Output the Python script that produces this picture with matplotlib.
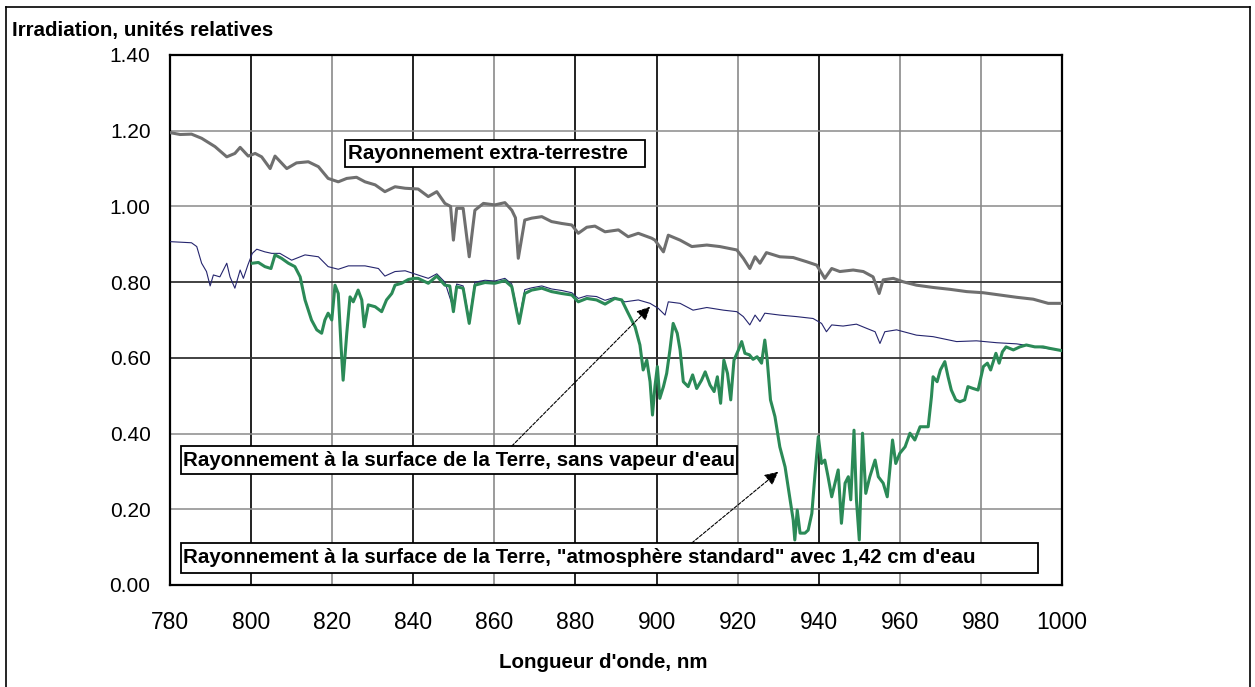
import matplotlib
matplotlib.use("Agg")
import matplotlib.pyplot as plt
from matplotlib.lines import Line2D
from matplotlib.patches import Rectangle

plt.rcParams['font.family'] = ['Liberation Sans', 'DejaVu Sans']

### Spectra (wavelength in nm, relative irradiance)
wl_extra = [780, 782.5, 785.3, 787.8, 791.1, 794, 796, 797.3, 799.3, 801,
            802.6, 804.7, 805.9, 808.8, 811.2, 814.1, 816.6, 819, 821.5, 823.6,
            826, 828.1, 830.6, 833, 835.5, 838, 841.2, 843.7, 845.8, 847.8,
            849.2, 849.9, 850.7, 852.3, 853.8, 855.2, 857.3, 860.1, 862.6, 864.3,
            865.2, 865.9, 867.5, 869.2, 871.7, 874.1, 876.6, 879.1, 880.7, 882.8,
            884.8, 887.3, 890.6, 893, 895.5, 898.8, 899.6, 901.7, 902.9, 905.8,
            908.7, 912.4, 915.6, 919.8, 921.4, 923, 924.3, 925.5, 927.1, 930.4,
            933.7, 937, 939.5, 941.5, 943.2, 945.2, 948.5, 951, 953.4, 954.9,
            955.9, 958.4, 960.8, 964.1, 968.2, 972.4, 976.5, 980.6, 984.7, 988.8,
            992.9, 996.6, 1000]
irr_extra = [1.195, 1.19, 1.191, 1.18, 1.158, 1.131, 1.140, 1.156, 1.133, 1.140,
             1.131, 1.10, 1.133, 1.10, 1.115, 1.118, 1.105, 1.074, 1.065, 1.074,
             1.077, 1.065, 1.057, 1.039, 1.052, 1.048, 1.046, 1.026, 1.039, 1.008,
             1.00, 0.911, 0.995, 0.995, 0.867, 0.990, 1.008, 1.004, 1.010, 0.990,
             0.97, 0.863, 0.964, 0.969, 0.973, 0.960, 0.955, 0.951, 0.929, 0.945,
             0.948, 0.933, 0.938, 0.920, 0.929, 0.916, 0.911, 0.880, 0.924, 0.911,
             0.894, 0.898, 0.894, 0.885, 0.863, 0.836, 0.867, 0.850, 0.878, 0.867,
             0.865, 0.854, 0.845, 0.810, 0.836, 0.828, 0.832, 0.828, 0.814, 0.770,
             0.806, 0.810, 0.801, 0.792, 0.786, 0.781, 0.775, 0.772, 0.766, 0.760,
             0.755, 0.744, 0.744]

wl_dry = [780, 785.3, 786.6, 787.8, 789, 789.9, 790.7, 792.3, 794, 794.8,
          796, 797.3, 798.1, 799.2, 800.3, 801.4, 803.4, 805.1, 807.1, 810,
          813.3, 816.6, 819, 821.5, 824, 828.1, 831.4, 833, 835.5, 838,
          840, 843.7, 845.8, 847.8, 849.9, 850.7, 852.3, 853.8, 855.2, 857.7,
          860.1, 862.6, 864.3, 866.1, 867.5, 869.2, 871.7, 874.1, 876.6, 879.1,
          880.7, 882.8, 885.2, 887.3, 889.7, 892.2, 895.5, 898.4, 900.4, 902.1,
          902.9, 905.8, 909, 912.4, 916.5, 919.8, 921.4, 923, 924.3, 925.5,
          926.7, 930.4, 934.5, 938.6, 940.7, 941.9, 943.2, 946, 949.3, 951.8,
          953.9, 955.1, 956.3, 959.2, 964.1, 968.2, 974, 978.9, 983.9, 988.8,
          993.7, 1000]
irr_dry = [0.907, 0.904, 0.894, 0.850, 0.828, 0.790, 0.819, 0.814, 0.850, 0.814,
           0.784, 0.832, 0.810, 0.845, 0.876, 0.887, 0.880, 0.876, 0.876, 0.858,
           0.872, 0.867, 0.841, 0.834, 0.843, 0.843, 0.836, 0.816, 0.828, 0.830,
           0.823, 0.810, 0.822, 0.800, 0.73, 0.795, 0.79, 0.70, 0.80, 0.805,
           0.803, 0.81, 0.795, 0.70, 0.78, 0.785, 0.79, 0.782, 0.778, 0.772,
           0.757, 0.764, 0.762, 0.752, 0.760, 0.748, 0.753, 0.744, 0.731, 0.713,
           0.748, 0.744, 0.726, 0.733, 0.726, 0.722, 0.709, 0.687, 0.713, 0.696,
           0.718, 0.713, 0.709, 0.704, 0.691, 0.669, 0.687, 0.684, 0.689, 0.678,
           0.669, 0.638, 0.669, 0.674, 0.660, 0.656, 0.643, 0.645, 0.640, 0.637,
           0.629, 0.619]

wl_std = [800.3, 801.8, 803.4, 804.9, 805.9, 807.5, 809.2, 810.8, 812.1, 813.3,
          814.9, 816.2, 817.4, 818.2, 819, 819.9, 820.7, 821.5, 822.2, 822.7,
          823.6, 824.4, 825.2, 826.4, 827.3, 827.9, 828.9, 830.6, 832.2, 833.4,
          834.7, 835.5, 837.1, 838.8, 840.2, 841.2, 843.7, 845.8, 847.8, 849,
          849.9, 850.7, 852.3, 853.8, 855.2, 857.7, 860.1, 862.6, 864.3, 866.1,
          867.5, 869.2, 871.7, 874.1, 876.6, 879.1, 880.7, 882.8, 885.2, 887.3,
          889.7, 891.4, 893, 894.7, 895.9, 896.7, 897.6, 898.4, 899, 899.6,
          900.2, 900.8, 901.7, 902.5, 903.3, 904.1, 905.1, 905.8, 906.6, 907.8,
          908.9, 909.9, 911.1, 912, 913.2, 914.2, 915, 915.8, 916.6, 917.5,
          918.3, 919.1, 920.2, 921, 921.8, 922.9, 923.8, 924.8, 925.9, 926.7,
          927.3, 928.1, 929.2, 930.4, 931.7, 932.7, 933.7, 934.1, 934.7, 935.4,
          936.6, 937.4, 938.3, 939.1, 939.9, 940.7, 941.5, 942.3, 943.2, 944,
          944.8, 945.6, 946.5, 947.3, 947.9, 948.7, 949.3, 950, 950.8, 951.6,
          952.6, 953.9, 954.7, 955.9, 956.9, 957.6, 958.2, 959, 960, 961.3,
          962.5, 963.7, 965, 967, 967.8, 968.2, 969.2, 970, 971.1, 971.9,
          972.7, 973.8, 974.8, 976, 976.8, 978.1, 979.3, 980.6, 981.6, 982.4,
          983.7, 984.5, 985.3, 986.2, 988, 989.6, 991.2, 993.3, 995.3, 997,
          1000]
irr_std = [0.850, 0.852, 0.841, 0.836, 0.872, 0.863, 0.850, 0.841, 0.814, 0.753,
           0.700, 0.674, 0.665, 0.700, 0.718, 0.700, 0.792, 0.770, 0.629, 0.541,
           0.665, 0.761, 0.748, 0.779, 0.753, 0.682, 0.740, 0.735, 0.722, 0.753,
           0.770, 0.792, 0.797, 0.807, 0.810, 0.810, 0.797, 0.816, 0.792, 0.790,
           0.722, 0.788, 0.784, 0.691, 0.792, 0.799, 0.797, 0.804, 0.788, 0.691,
           0.770, 0.779, 0.784, 0.775, 0.770, 0.766, 0.748, 0.757, 0.753, 0.742,
           0.757, 0.753, 0.718, 0.682, 0.634, 0.568, 0.594, 0.537, 0.449, 0.524,
           0.577, 0.493, 0.524, 0.559, 0.621, 0.691, 0.665, 0.621, 0.537, 0.524,
           0.555, 0.519, 0.541, 0.563, 0.528, 0.511, 0.550, 0.480, 0.594, 0.559,
           0.489, 0.594, 0.621, 0.643, 0.612, 0.608, 0.596, 0.603, 0.586, 0.647,
           0.594, 0.489, 0.445, 0.365, 0.312, 0.242, 0.172, 0.119, 0.198, 0.137,
           0.137, 0.145, 0.189, 0.295, 0.392, 0.321, 0.330, 0.286, 0.233, 0.269,
           0.304, 0.163, 0.269, 0.286, 0.225, 0.409, 0.225, 0.119, 0.401, 0.242,
           0.286, 0.330, 0.286, 0.269, 0.233, 0.312, 0.383, 0.321, 0.348, 0.365,
           0.401, 0.383, 0.418, 0.418, 0.497, 0.550, 0.537, 0.568, 0.590, 0.550,
           0.515, 0.489, 0.484, 0.489, 0.524, 0.519, 0.515, 0.577, 0.586, 0.568,
           0.612, 0.586, 0.616, 0.629, 0.621, 0.629, 0.634, 0.629, 0.629, 0.625,
           0.619]

x_ticks = list(range(780, 1001, 20))
y_ticks = [0.0, 0.2, 0.4, 0.6, 0.8, 1.0, 1.2, 1.4]
dark_x = [800, 840, 880, 900, 940]
dark_y = [0.6, 0.8]

label_extra = "Rayonnement extra-terrestre"
label_dry = "Rayonnement à la surface de la Terre, sans vapeur d'eau"
label_std = 'Rayonnement à la surface de la Terre, "atmosphère standard" avec 1,42 cm d\'eau'

W, H = 1255, 687
fig = plt.figure(figsize=(W / 100, H / 100), dpi=100)
ax = fig.add_axes([170 / W, 1 - 585 / H, 892 / W, 530 / H])

ax.set_xlim(780, 1000)
ax.set_ylim(0, 1.4)

### Grid, alternating heavy and light lines
for x in x_ticks[1:-1]:
    if x in dark_x:
        ax.axvline(x, color='#111111', lw=1.3, zorder=1)
    else:
        ax.axvline(x, color='#808080', lw=1.1, zorder=1)
for y in y_ticks[1:-1]:
    if y in dark_y:
        ax.axhline(y, color='#333333', lw=1.3, zorder=1)
    else:
        ax.axhline(y, color='#8a8a8a', lw=1.1, zorder=1)

### Curves
ax.plot(wl_extra, irr_extra, color='#6f6f6f', lw=2.2, zorder=3)
ax.plot(wl_dry, irr_dry, color='#25256e', lw=0.8, zorder=3)
ax.plot(wl_std, irr_std, color='#2b8a57', lw=2.2, zorder=4)

for s in ax.spines.values():
    s.set_linewidth(1.6)
    s.set_color('black')

ax.set_xticks(x_ticks)
ax.set_xticklabels([str(x) for x in x_ticks], fontsize=16.5)
ax.set_yticks(y_ticks)
ax.set_yticklabels(['%.2f' % y for y in y_ticks], fontsize=15)
ax.tick_params(axis='x', length=0, pad=19)
ax.tick_params(axis='y', length=0, pad=14)

### Labelled boxes
def label_box(x0, x1, y0, y1, text):
    ax.add_patch(Rectangle((x0, y0), x1 - x0, y1 - y0, facecolor='white',
                           edgecolor='black', lw=1.3, zorder=6))
    ax.text(x0 + 0.6, (y0 + y1) / 2, text, fontsize=14.8, fontweight='bold',
            ha='left', va='center', zorder=7)

label_box(823.2, 897.1, 1.104, 1.175, label_extra)
label_box(782.7, 919.8, 0.293, 0.367, label_dry)
label_box(782.7, 994.1, 0.032, 0.111, label_std)

arrow = dict(arrowstyle='-|>', color='black', lw=0.8, linestyle=(0, (3, 1.5)),
             mutation_scale=20, shrinkA=0, shrinkB=0)
ax.annotate('', xy=(898.4, 0.735), xytext=(864.3, 0.367), arrowprops=arrow, zorder=8)
ax.annotate('', xy=(930.0, 0.299), xytext=(908.7, 0.111), arrowprops=arrow, zorder=8)

### Titles
fig.text(12 / W, 1 - 36 / H, "Irradiation, unités relatives", fontsize=14.8,
         fontweight='bold', ha='left', va='baseline')
fig.text(603 / W, 1 - 668 / H, "Longueur d'onde, nm", fontsize=14.8,
         fontweight='bold', ha='center', va='baseline')

### Frame around the whole figure
for xs, ys in [([6, 6], [H, 7]), ([6, 1250], [7, 7]), ([1250, 1250], [7, H])]:
    fig.add_artist(Line2D([x / W for x in xs], [1 - y / H for y in ys],
                          transform=fig.transFigure, color='black', lw=1.2))

fig.savefig('out.png', dpi=100, facecolor='white')
